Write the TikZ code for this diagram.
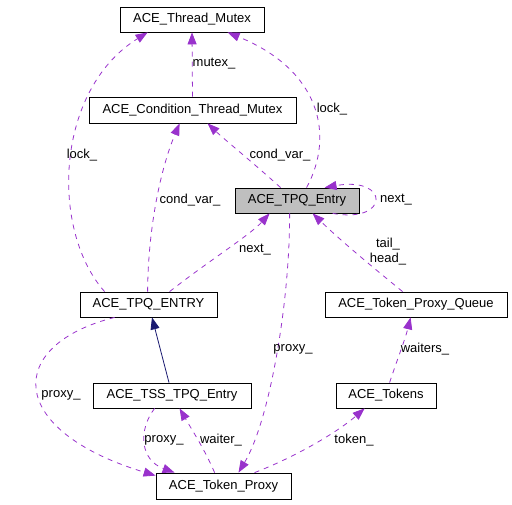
\documentclass[tikz,border=0pt]{standalone}
\usepackage{fontspec}
\setmainfont{Liberation Sans}
\usetikzlibrary{arrows.meta}
\definecolor{mpurple}{RGB}{153,50,204}
\definecolor{mnavy}{RGB}{25,25,112}
\definecolor{mgray}{RGB}{191,191,191}
\tikzset{box/.style = {draw, line width=0.8pt, inner sep=0pt, minimum height=25pt,
                       font=\fontsize{13}{15}\selectfont},
         lbl/.style = {inner sep=0pt, font=\fontsize{13}{15}\selectfont},
         dep/.style = {mpurple, line width=0.8pt, dash pattern=on 5pt off 5pt,
                       -{Triangle[length=12pt, width=9pt]}},
         inherit/.style = {mnavy, line width=0.8pt,
                       -{Triangle[length=12pt, width=9pt]}}}

\begin{document}
\begin{tikzpicture}[x=1pt, y=-1pt]
      \useasboundingbox (0, 0) rectangle (512, 504);

      \node [box, minimum width=144pt] (threadmutex) at (192, 19.5) {ACE\_Thread\_Mutex};
      \node [box, minimum width=207pt, minimum height=26pt] (condmutex) at (192.5, 110) {ACE\_Condition\_Thread\_Mutex};
      \node [box, minimum width=124pt, fill=mgray] (tpqentry) at (297, 200.5) {ACE\_TPQ\_Entry};
      \node [box, minimum width=137pt] (tpqENTRY) at (148.5, 304.5) {ACE\_TPQ\_ENTRY};
      \node [box, minimum width=182pt] (proxyqueue) at (416, 304.5) {ACE\_Token\_Proxy\_Queue};
      \node [box, minimum width=158pt] (tssentry) at (172, 395.5) {ACE\_TSS\_TPQ\_Entry};
      \node [box, minimum width=100pt] (tokens) at (386, 395.5) {ACE\_Tokens};
      \node [box, minimum width=135pt, minimum height=26pt] (tokenproxy) at (223.5, 486) {ACE\_Token\_Proxy};

      \draw [dep] ([xshift=25pt]tpqENTRY.north west) .. controls (50, 230) and (55, 90) .. ([xshift=28pt]threadmutex.south west);
      \draw [dep] (condmutex.north) -- (threadmutex.south);
      \draw [dep] ([xshift=72pt]tpqentry.north west) .. controls (335, 135) and (320, 70) .. ([xshift=108pt]threadmutex.south west);
      \draw [dep] ([xshift=46pt]tpqentry.north west) .. controls (250, 160) and (225, 140) .. ([xshift=119pt]condmutex.south west);
      \draw [dep] ([xshift=68pt]tpqENTRY.north west) .. controls (148, 230) and (160, 170) .. ([xshift=91pt]condmutex.south west);
      \draw [dep] ([xshift=98pt]tpqentry.south west) .. controls (390, 224) and (390, 176) .. ([xshift=90pt]tpqentry.north west);
      \draw [dep] ([xshift=90pt]tpqENTRY.north west) .. controls (210, 260) and (250, 235) .. ([xshift=35pt]tpqentry.south west);
      \draw [dep] ([xshift=78pt]proxyqueue.north west) .. controls (370, 265) and (340, 240) .. ([xshift=78pt]tpqentry.south west);
      \draw [dep] ([xshift=54pt]tokens.north west) .. controls (397, 360) and (405, 340) .. ([xshift=86pt]proxyqueue.south west);
      \draw [dep] ([xshift=35pt]tpqENTRY.south west) .. controls (5, 345) and (5, 430) .. ([yshift=-3pt]tokenproxy.north west);
      \draw [dep] ([xshift=62pt]tssentry.south west) .. controls (138, 430) and (140, 460) .. ([xshift=19pt]tokenproxy.north west);
      \draw [dep] ([xshift=59pt]tokenproxy.north west) .. controls (205, 450) and (192, 430) .. ([xshift=87pt]tssentry.south west);
      \draw [dep] ([xshift=55pt]tpqentry.south west) .. controls (290, 300) and (270, 420) .. ([xshift=15pt]tokenproxy.north);
      \draw [dep] ([xshift=99pt]tokenproxy.north west) .. controls (300, 455) and (340, 430) .. ([xshift=29pt]tokens.south west);

      \draw [inherit] ([xshift=-3pt]tssentry.north) -- ([xshift=3.5pt]tpqENTRY.south);

      \node [lbl] (llockl) at (82, 155) {lock\_};
      \node [lbl] (lmutex) at (214, 64) {mutex\_};
      \node [lbl] (llockr) at (332, 109) {lock\_};
      \node [lbl] (lcondr) at (280, 155) {cond\_var\_};
      \node [lbl] (lcondl) at (190, 200) {cond\_var\_};
      \node [lbl] (lnexts) at (396, 200) {next\_};
      \node [lbl] (lnext) at (255, 250) {next\_};
      \node [lbl, align=center] (ltailhead) at (388, 252) {tail\_\\head\_};
      \node [lbl] (lwaiters) at (425, 349) {waiters\_};
      \node [lbl] (lproxyl) at (61, 395) {proxy\_};
      \node [lbl] (lproxyt) at (164, 440) {proxy\_};
      \node [lbl] (lwaiter) at (221, 440) {waiter\_};
      \node [lbl] (lproxym) at (293, 349) {proxy\_};
      \node [lbl] (ltoken) at (354, 440) {token\_};
    \end{tikzpicture}
\end{document}
